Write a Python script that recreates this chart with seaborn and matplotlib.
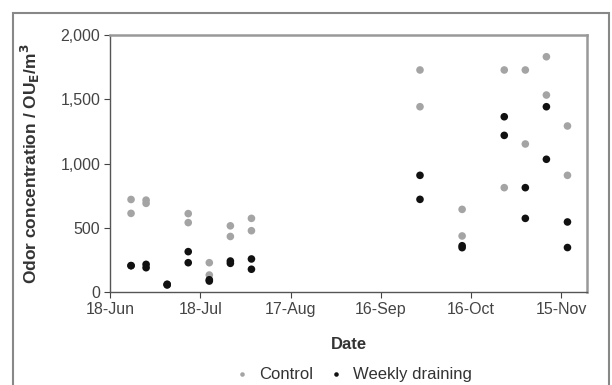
import matplotlib
matplotlib.use("Agg")
import matplotlib.pyplot as plt
import matplotlib.dates as mdates
import seaborn as sns
import pandas as pd
import numpy as np

sns.set_style("white")
plt.rcParams['font.family'] = ['Liberation Sans', 'DejaVu Sans']

# Sampling dates
dates = ["2007-06-25", "2007-06-30", "2007-07-07", "2007-07-14", "2007-07-21",
         "2007-07-28", "2007-08-04", "2007-09-29", "2007-10-13", "2007-10-27",
         "2007-11-03", "2007-11-10", "2007-11-17"]
# Two replicate measurements per date (OU_E/m3)
control_a = [720, 715, 60, 610, 228, 515, 573, 1728, 643, 1728, 1728, 1831, 1292]
control_b = [612, 690, 55, 540, 132, 432, 477, 1442, 436, 812, 1152, 1533, 908]
weekly_a = [205, 215, 60, 314, 95, 241, 257, 908, 360, 1364, 812, 1442, 545]
weekly_b = [205, 189, 55, 228, 85, 223, 177, 721, 345, 1219, 573, 1033, 346]

tick_dates = ["2007-06-18", "2007-07-18", "2007-08-17", "2007-09-16", "2007-10-16", "2007-11-15"]
y_ticks = [0, 500, 1000, 1500, 2000]

rows = []
for d, a, b in zip(dates, control_a, control_b):
    rows.append((d, a, "Control")); rows.append((d, b, "Control"))
for d, a, b in zip(dates, weekly_a, weekly_b):
    rows.append((d, a, "Weekly draining")); rows.append((d, b, "Weekly draining"))
df = pd.DataFrame(rows, columns=["Date", "Odor", "Treatment"])
df["Date"] = pd.to_datetime(df["Date"])

fig = plt.figure(figsize=(6.12, 3.85), dpi=100)
ax = fig.add_axes([0.1797, 0.2416, 0.7795, 0.6674])

sns.scatterplot(data=df, x="Date", y="Odor", hue="Treatment",
                palette={"Control": "#a4a4a4", "Weekly draining": "#111111"},
                s=30, edgecolor="none", ax=ax, legend=True, zorder=3)

ax.set_xlim(pd.Timestamp("2007-06-18"), pd.Timestamp("2007-11-23 12:00"))
ax.set_ylim(0, 2000)
ax.set_xticks(pd.to_datetime(tick_dates))
ax.xaxis.set_major_formatter(mdates.DateFormatter("%d-%b"))
ax.set_yticks(y_ticks)
ax.set_yticklabels([f"{v:,}" for v in y_ticks])
ax.tick_params(axis="both", labelsize=11.5, length=4, width=0.8, direction="out",
               colors="#444444", pad=3)
ax.tick_params(axis="y", left=True)
ax.tick_params(axis="x", bottom=True)

for side in ["left", "bottom"]:
    ax.spines[side].set_color("#555555")
    ax.spines[side].set_linewidth(1.0)
for side in ["top", "right"]:
    ax.spines[side].set_color("#999999")
    ax.spines[side].set_linewidth(1.8)

ax.set_xlabel("Date", fontsize=12, fontweight="bold", color="#333333")
ax.xaxis.set_label_coords(0.5, -0.175)
ax.set_ylabel("Odor concentration / OU$_\\mathbf{E}$/m$^\\mathbf{3}$", fontsize=12.5,
              fontweight="bold", color="#333333")
ax.yaxis.set_label_coords(-0.142, 0.5)

leg = ax.legend(loc="center", bbox_to_anchor=(0.5, -0.323), ncol=2,
                frameon=False, fontsize=12, handletextpad=0.0, columnspacing=0.4,
                markerscale=0.6, borderaxespad=0)
for t in leg.get_texts():
    t.set_color("#333333")

# outer frame
fig.patches.append(plt.Rectangle((13 / 612, -0.01), 596 / 612, 1 - 13 / 385 + 0.01,
                                 transform=fig.transFigure, fill=False,
                                 edgecolor="#888888", linewidth=1.5))

fig.savefig("out.png", dpi=100)
